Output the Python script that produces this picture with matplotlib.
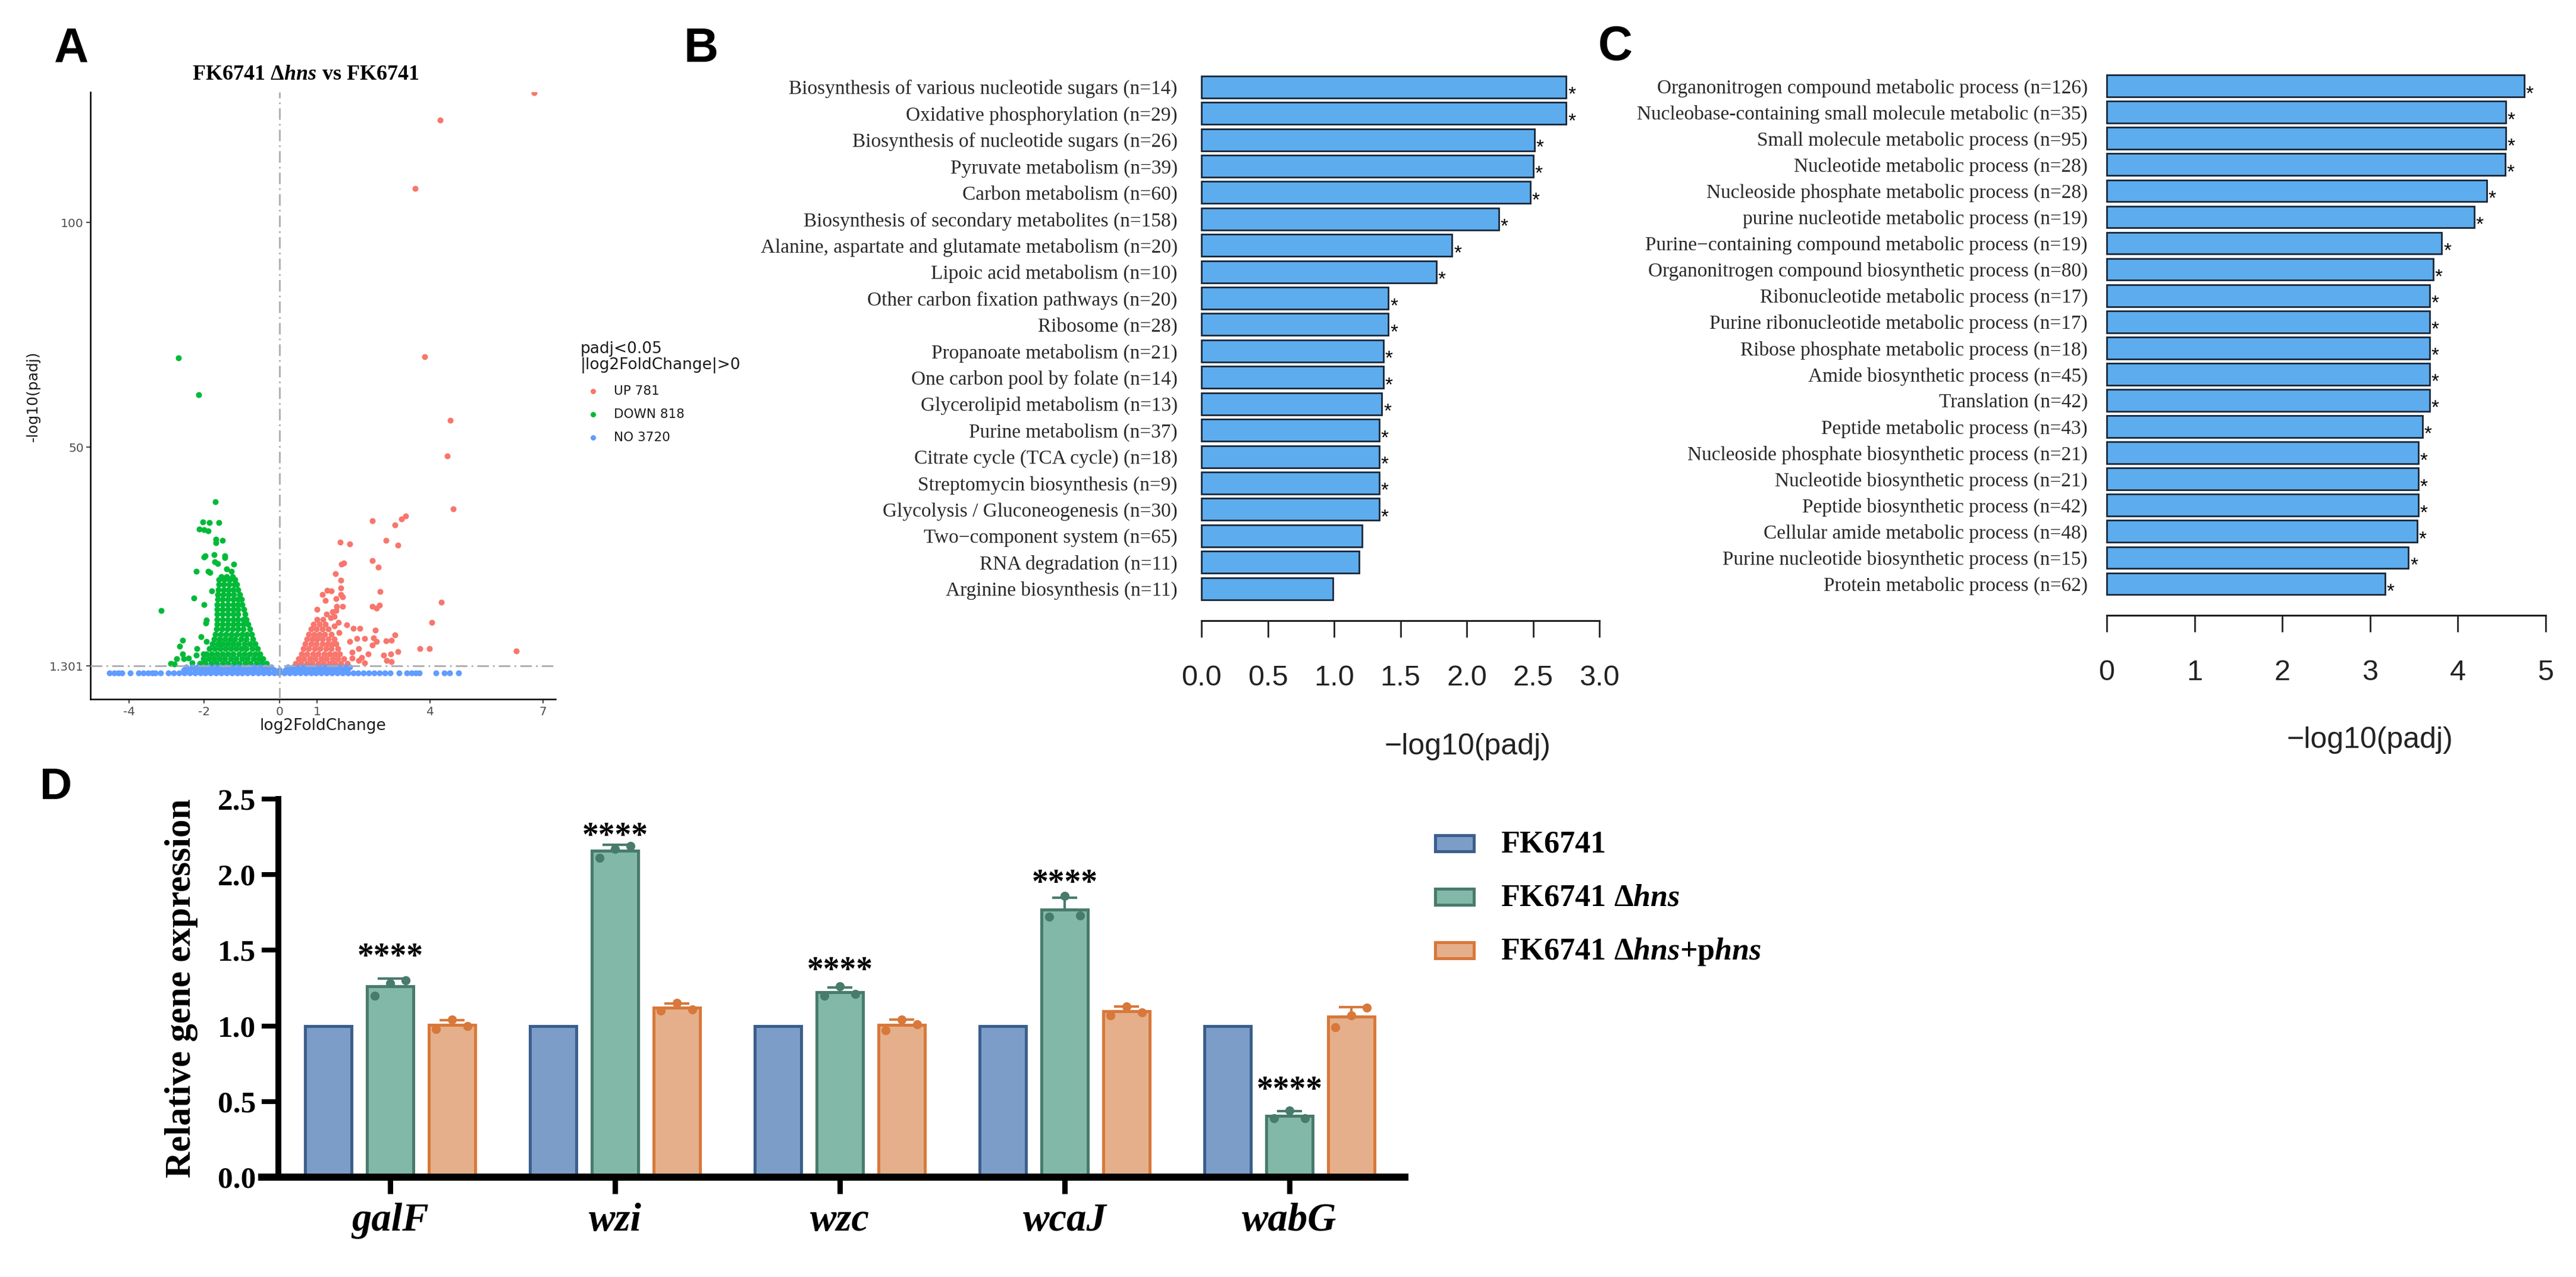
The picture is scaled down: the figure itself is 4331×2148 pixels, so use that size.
import numpy as np
import matplotlib
matplotlib.use("Agg")
import matplotlib.pyplot as plt
from matplotlib.patches import Rectangle
from matplotlib.lines import Line2D

plt.rcParams['mathtext.fontset'] = 'custom'
plt.rcParams['mathtext.rm'] = 'Liberation Serif:bold'
plt.rcParams['mathtext.it'] = 'Liberation Serif:italic:bold'
plt.rcParams['mathtext.bf'] = 'Liberation Serif:bold'

# ---------------------------------------------------------------- data A
UP_COLOR, DOWN_COLOR, NO_COLOR = '#F8766D', '#00BA38', '#619CFF'
A_XTICKS = [-4, -2, 0, 1, 4, 7]
A_YTICKS = [1.301, 50, 100]
A_YTICKLABELS = ['1.301', '50', '100']
LEGEND_A = ['UP 781', 'DOWN 818', 'NO 3720']

DOWN_ROW_Y = [1.8, 2.9, 4.0, 5.1, 6.2, 7.3, 8.4, 9.5, 10.6, 11.7, 12.8, 13.9,
              15.0, 16.1, 17.2, 18.3, 19.4, 20.5, 21.2]
DOWN_ROW_X = [
    [-2.12, -1.97, -1.82, -1.67, -1.52, -1.37, -1.22, -1.07, -0.92, -0.77, -0.62, -0.47, -0.35],
    [-2.02, -1.88, -1.74, -1.60, -1.45, -1.30, -1.15, -1.00, -0.85, -0.70, -0.56, -0.45],
    [-1.94, -1.80, -1.66, -1.52, -1.38, -1.23, -1.08, -0.93, -0.79, -0.65, -0.53],
    [-1.86, -1.72, -1.58, -1.44, -1.30, -1.16, -1.02, -0.88, -0.73, -0.59],
    [-1.79, -1.65, -1.51, -1.37, -1.23, -1.09, -0.94, -0.79, -0.65],
    [-1.74, -1.60, -1.46, -1.32, -1.18, -1.03, -0.88, -0.71],
    [-1.70, -1.56, -1.42, -1.28, -1.14, -1.00, -0.87, -0.75],
    [-1.67, -1.53, -1.39, -1.25, -1.11, -0.97, -0.79],
    [-1.66, -1.52, -1.38, -1.24, -1.10, -0.97, -0.84],
    [-1.66, -1.52, -1.38, -1.24, -1.10, -0.97, -0.88],
    [-1.66, -1.52, -1.38, -1.24, -1.10, -0.92],
    [-1.66, -1.52, -1.38, -1.24, -1.10, -0.95],
    [-1.66, -1.52, -1.38, -1.24, -1.11, -0.99],
    [-1.65, -1.51, -1.37, -1.23, -1.10, -1.02],
    [-1.64, -1.50, -1.36, -1.22, -1.06],
    [-1.63, -1.49, -1.36, -1.23, -1.10],
    [-1.62, -1.48, -1.34, -1.20, -1.14],
    [-1.61, -1.47, -1.33, -1.18],
    [-1.55, -1.40, -1.25],
]
DOWN_SX = [-2.69, -2.15, -1.70, -2.04, -1.86, -1.62, -2.13, -2.01, -1.90, -1.69,
           -1.52, -1.69, -2.01, -1.98, -1.74, -1.46, -1.46, -1.72, -1.65, -1.22,
           -2.21, -1.90, -1.85, -1.41, -1.28, -1.80, -2.27, -2.01, -3.15, -1.95,
           -1.96, -2.57, -2.66, -2.08, -2.20, -1.95, -2.79, -2.74, -2.58, -2.42,
           -2.21, -2.32, -2.00, -2.03, -2.55, -2.90]
DOWN_SY = [69.9, 61.6, 37.8, 33.3, 33.2, 33.2, 31.8, 31.6, 31.3, 29.5,
           29.2, 28.7, 25.5, 25.8, 26.0, 25.8, 25.4, 24.5, 24.1, 23.9,
           22.3, 22.4, 22.1, 22.9, 22.3, 18.0, 16.4, 15.0, 13.6, 11.5,
           10.9, 7.0, 5.7, 7.8, 5.2, 6.8, 1.76, 2.87, 4.0, 3.0,
           3.7, 2.0, 2.65, 4.0, 2.85, 1.9]

UP_ROW_Y = [1.8, 2.9, 4.0, 5.1, 6.2, 7.3, 8.4, 9.5, 10.6, 11.7]
UP_ROW_X = [
    [0.42, 0.57, 0.72, 0.87, 1.02, 1.17, 1.32, 1.47, 1.62, 1.80],
    [0.50, 0.65, 0.80, 0.95, 1.10, 1.25, 1.40, 1.55, 1.70],
    [0.58, 0.73, 0.88, 1.03, 1.18, 1.33, 1.47, 1.60],
    [0.63, 0.78, 0.93, 1.08, 1.23, 1.38, 1.55],
    [0.68, 0.83, 0.98, 1.13, 1.28, 1.40, 1.50],
    [0.72, 0.86, 1.00, 1.14, 1.29, 1.45],
    [0.77, 0.91, 1.05, 1.20, 1.37],
    [0.83, 0.98, 1.13, 1.30],
    [0.90, 1.05, 1.22],
    [0.99, 1.15],
]
UP_SX = [6.76, 4.27, 3.60, 3.85, 4.53, 4.45, 6.29, 1.49, 1.63, 1.63,
         1.63, 1.67, 1.50, 1.67, 1.51, 1.40, 1.50, 1.45, 1.56, 1.46,
         1.58, 1.35, 1.25, 1.64, 1.70, 1.61, 1.87, 2.46, 3.07, 3.23,
         3.35, 4.61, 2.83, 3.14, 2.46, 2.62, 2.67, 2.47, 2.58, 2.66,
         4.29, 4.05, 3.73, 3.98, 1.27, 1.13, 1.21, 0.99, 1.37, 1.79,
         1.96, 2.13, 2.55, 3.06, 1.87, 2.05, 2.25, 2.50, 2.58, 2.83,
         2.97, 2.46, 2.10, 2.36, 2.76, 2.95, 3.15, 1.92, 1.92, 2.10,
         2.26, 2.18, 2.84, 2.97]
UP_SY = [128.9, 122.8, 107.6, 70.1, 56.0, 48.0, 4.6, 21.8, 20.4, 18.7,
         17.2, 16.7, 16.3, 14.6, 14.6, 13.4, 13.6, 12.3, 11.0, 10.2,
         8.8, 12.0, 12.8, 24.0, 24.2, 28.85, 28.5, 33.6, 32.7, 34.0,
         34.7, 36.3, 29.3, 28.2, 24.8, 23.3, 17.9, 14.6, 14.1, 14.8,
         15.5, 11.0, 5.2, 5.1, 18.1, 17.2, 15.9, 13.9, 18.0, 10.4,
         9.7, 9.6, 9.3, 8.2, 6.8, 7.4, 7.4, 7.6, 6.8, 6.9,
         7.0, 5.95, 5.2, 4.0, 3.75, 3.98, 4.5, 4.4, 3.1, 2.5,
         2.0, 3.2, 2.5, 2.3]

NO_ROW_Y = [-0.2, 0.45, 1.1]
NO_ROW_X = [
    [-4.52, -4.40, -4.28, -4.19, -3.96, -3.74, -3.62, -3.50, -3.38, -3.31, -3.16,
     -2.95, -2.81, -2.67, -2.53, -2.39, -2.25, -2.11, -1.97, -1.83, -1.69, -1.55,
     -1.41, -1.27, -1.13, -0.99, -0.85, -0.71, -0.57, -0.43, -0.29, -0.15, -0.01,
     0.13, 0.27, 0.41, 0.55, 0.69, 0.83, 0.97, 1.11, 1.25, 1.39, 1.53, 1.67, 1.81,
     1.95, 2.09, 2.23, 2.37, 2.51, 2.65, 2.79, 2.93, 3.17, 3.38, 3.50, 3.62, 3.71,
     4.16, 4.38, 4.52, 4.76],
    [-2.55, -2.40, -2.25, -2.10, -1.95, -1.80, -1.65, -1.50, -1.35, -1.20, -1.05,
     -0.90, -0.75, -0.60, -0.45, -0.30, -0.15, 0.0, 0.15, 0.30, 0.45, 0.60, 0.75,
     0.90, 1.05, 1.20, 1.35, 1.50, 1.65, 1.80],
    [-2.48, -2.33, -2.18, -2.03, -1.88, -1.73, -1.58, -1.43, -1.28, -1.13, -0.98,
     -0.83, -0.68, -0.53, -0.38, -0.23, 0.22, 0.37, 0.52, 0.67, 0.82, 0.97, 1.12,
     1.27, 1.42, 1.57, 1.72, 1.87],
]

# ---------------------------------------------------------------- data B
B_TERMS = [
    "Biosynthesis of various nucleotide sugars (n=14)",
    "Oxidative phosphorylation (n=29)",
    "Biosynthesis of nucleotide sugars (n=26)",
    "Pyruvate metabolism (n=39)",
    "Carbon metabolism (n=60)",
    "Biosynthesis of secondary metabolites (n=158)",
    "Alanine, aspartate and glutamate metabolism (n=20)",
    "Lipoic acid metabolism (n=10)",
    "Other carbon fixation pathways (n=20)",
    "Ribosome (n=28)",
    "Propanoate metabolism (n=21)",
    "One carbon pool by folate (n=14)",
    "Glycerolipid metabolism (n=13)",
    "Purine metabolism (n=37)",
    "Citrate cycle (TCA cycle) (n=18)",
    "Streptomycin biosynthesis (n=9)",
    "Glycolysis / Gluconeogenesis (n=30)",
    "Two\u2212component system (n=65)",
    "RNA degradation (n=11)",
    "Arginine biosynthesis (n=11)",
]
B_VALUES = [2.75, 2.75, 2.51, 2.50, 2.48, 2.24, 1.89, 1.77, 1.41, 1.41,
            1.37, 1.37, 1.36, 1.34, 1.34, 1.34, 1.34, 1.21, 1.19, 0.99]
B_SIG = [True] * 17 + [False] * 3
B_TICKS = [0.0, 0.5, 1.0, 1.5, 2.0, 2.5, 3.0]
B_TICKLABELS = ['0.0', '0.5', '1.0', '1.5', '2.0', '2.5', '3.0']

# ---------------------------------------------------------------- data C
C_TERMS = [
    "Organonitrogen compound metabolic process (n=126)",
    "Nucleobase-containing small molecule metabolic (n=35)",
    "Small molecule metabolic process (n=95)",
    "Nucleotide metabolic process (n=28)",
    "Nucleoside phosphate metabolic process (n=28)",
    "purine nucleotide metabolic process (n=19)",
    "Purine\u2212containing compound metabolic process (n=19)",
    "Organonitrogen compound biosynthetic process (n=80)",
    "Ribonucleotide metabolic process (n=17)",
    "Purine ribonucleotide metabolic process (n=17)",
    "Ribose phosphate metabolic process (n=18)",
    "Amide biosynthetic process (n=45)",
    "Translation (n=42)",
    "Peptide metabolic process (n=43)",
    "Nucleoside phosphate biosynthetic process (n=21)",
    "Nucleotide biosynthetic process (n=21)",
    "Peptide biosynthetic process (n=42)",
    "Cellular amide metabolic process (n=48)",
    "Purine nucleotide biosynthetic process (n=15)",
    "Protein metabolic process (n=62)",
]
C_VALUES = [4.76, 4.55, 4.55, 4.54, 4.33, 4.19, 3.82, 3.72, 3.68, 3.68,
            3.68, 3.68, 3.68, 3.60, 3.55, 3.55, 3.55, 3.54, 3.44, 3.17]
C_SIG = [True] * 20
C_TICKS = [0, 1, 2, 3, 4, 5]
C_TICKLABELS = ['0', '1', '2', '3', '4', '5']

# ---------------------------------------------------------------- data D
GENES = ['galF', 'wzi', 'wzc', 'wcaJ', 'wabG']
WT_REL = [1.0, 1.0, 1.0, 1.0, 1.0]
HNS_REPS = [[1.20, 1.28, 1.30], [2.11, 2.17, 2.19], [1.20, 1.26, 1.21],
            [1.72, 1.86, 1.73], [0.39, 0.44, 0.39]]
COMP_REPS = [[0.98, 1.04, 1.00], [1.10, 1.15, 1.11], [0.97, 1.04, 1.01],
             [1.07, 1.13, 1.09], [0.99, 1.07, 1.12]]
STAR_Y = [1.50, 2.30, 1.41, 1.99, 0.62]
D_YTICKS = [0.0, 0.5, 1.0, 1.5, 2.0, 2.5]
D_YTICKLABELS = ['0.0', '0.5', '1.0', '1.5', '2.0', '2.5']

# ---------------------------------------------------------------- figure
W, H, DPI = 4331, 2148, 100
fig = plt.figure(figsize=(W / DPI, H / DPI), dpi=DPI, facecolor='white')


def fx(px):
    return px / W


def fy(py):
    return 1 - py / H


def axes_px(l, t, r, b):
    return fig.add_axes([l / W, 1 - b / H, (r - l) / W, (b - t) / H])


SERIF = 'Liberation Serif'
SANS = 'Liberation Sans'

# ================================================================ Panel A
axA = axes_px(152, 155, 934, 1176)


def flatten_rows(rows_y, rows_x):
    xs, ys = [], []
    for yv, row in zip(rows_y, rows_x):
        for xv in row:
            xs.append(xv)
            ys.append(yv)
    return xs, ys


dx, dy = flatten_rows(DOWN_ROW_Y, DOWN_ROW_X)
ux, uy = flatten_rows(UP_ROW_Y, UP_ROW_X)
nx_, ny_ = flatten_rows(NO_ROW_Y, NO_ROW_X)
axA.scatter(dx + DOWN_SX, dy + DOWN_SY, s=52, color=DOWN_COLOR, linewidths=0, zorder=2)
axA.scatter(ux + UP_SX, uy + UP_SY, s=52, color=UP_COLOR, linewidths=0, zorder=2)
axA.scatter(nx_, ny_, s=52, color=NO_COLOR, linewidths=0, zorder=3)
dash = (0, (7, 2.5, 1, 2.5))
axA.axvline(0, color='#ABABAB', lw=2.0, ls=dash, zorder=4)
axA.axhline(1.301, color='#ABABAB', lw=2.0, ls=dash, zorder=4)
axA.set_xlim(-5.025, 7.329)
axA.set_ylim(-6.08, 128.97)
for s in ('top', 'right'):
    axA.spines[s].set_visible(False)
for s in ('left', 'bottom'):
    axA.spines[s].set_linewidth(1.8)
    axA.spines[s].set_color('black')
axA.set_xticks(A_XTICKS)
axA.set_xticklabels([str(t) for t in A_XTICKS])
axA.set_yticks(A_YTICKS)
axA.set_yticklabels(A_YTICKLABELS)
axA.tick_params(axis='both', length=5, width=1.3, color='#333333',
                labelsize=14.5, labelcolor='#4D4D4D')
axA.tick_params(axis='x', pad=3.5)
axA.tick_params(axis='y', pad=3)
for lab in axA.get_xticklabels() + axA.get_yticklabels():
    lab.set_family('DejaVu Sans')
fig.text(fx(543), fy(1221), 'log2FoldChange', ha='center', va='center',
         family='DejaVu Sans', size=19, color='#1a1a1a')
fig.text(fx(56), fy(667), '-log10(padj)', ha='center', va='center', rotation=90,
         family='DejaVu Sans', size=18, color='#1a1a1a')
fig.text(fx(514), fy(124), r'$\mathrm{FK6741\ \Delta}\mathit{hns}\mathrm{\ vs\ FK6741}$',
         ha='center', va='center', size=26)

# legend A
fig.text(fx(976), fy(587), 'padj<0.05', ha='left', va='center',
         family='DejaVu Sans', size=19, color='#1a1a1a')
fig.text(fx(976), fy(614), '|log2FoldChange|>0', ha='left', va='center',
         family='DejaVu Sans', size=19, color='#1a1a1a')
for lab, col, yy in zip(LEGEND_A, [UP_COLOR, DOWN_COLOR, NO_COLOR], [658, 697, 736]):
    fig.add_artist(Line2D([fx(997)], [fy(yy)], marker='o', markersize=6.5,
                          markeredgewidth=0, color=col, linestyle='none',
                          transform=fig.transFigure))
    fig.text(fx(1032), fy(yy), lab, ha='left', va='center',
             family='DejaVu Sans', size=15.5, color='#1a1a1a')

# ================================================================ Panels B & C
BAR_FILL = '#5CACEE'
BAR_EDGE = '#1a2636'


def enrich_panel(left, top, right, bottom, first_c, step, x_per_unit,
                 values, terms, sig, ticks, ticklabels, label_pad):
    ax = axes_px(left, top, right, bottom)
    pos = np.arange(len(values))
    ax.barh(pos, values, height=0.833, color=BAR_FILL, edgecolor=BAR_EDGE,
            linewidth=2.0, clip_on=False, zorder=2)
    ax.set_ylim((bottom - first_c) / step, (top - first_c) / step)
    ax.set_xlim(0, (right - left) / x_per_unit)
    for s in ('left', 'top', 'right'):
        ax.spines[s].set_visible(False)
    ax.spines['bottom'].set_bounds(ticks[0], ticks[-1])
    ax.spines['bottom'].set_linewidth(2.2)
    ax.spines['bottom'].set_color('#222222')
    ax.set_xticks(ticks)
    ax.set_xticklabels(ticklabels, fontfamily=SANS, fontsize=35, color='#222222')
    ax.tick_params(axis='x', length=20, width=2.0, color='#222222', pad=33)
    ax.set_yticks(pos)
    ax.set_yticklabels(terms, fontfamily=SERIF, fontsize=24, color='#2a2a2a')
    ax.tick_params(axis='y', length=0, pad=label_pad)
    for i, (v, sg) in enumerate(zip(values, sig)):
        if sg:
            ax.annotate('*', xy=(v, i), xytext=(2, -16), textcoords='offset points',
                        ha='left', va='baseline', fontsize=24, family=SANS,
                        color='black', annotation_clip=False)
    ax.patch.set_alpha(0)
    return ax


axB = enrich_panel(2020, 120, 2730, 1044, 146.2, 44.42, 223.0,
                   B_VALUES, B_TERMS, B_SIG, B_TICKS, B_TICKLABELS, 29)
axC = enrich_panel(3542, 120, 4320, 1035, 144.6, 44.07, 147.5,
                   C_VALUES, C_TERMS, C_SIG, C_TICKS, C_TICKLABELS, 23)
fig.text(fx(2467), fy(1256), '\u2212log10(padj)', ha='center', va='center',
         family=SANS, size=36, color='#222222')
fig.text(fx(3984), fy(1245), '\u2212log10(padj)', ha='center', va='center',
         family=SANS, size=36, color='#222222')

# ================================================================ Panel D
FILLS = ['#7B9DC7', '#82B8A8', '#E4AF8A']
EDGES = ['#3B5F8C', '#487B6C', '#D8783A']
axD = axes_px(440, 1344, 2362, 1980)
xg = np.arange(len(GENES))
OFF = 0.275
BW = 0.206
JIT = [-0.07, 0.0, 0.07]

axD.bar(xg - OFF, WT_REL, width=BW, color=FILLS[0], edgecolor=EDGES[0],
        linewidth=3.6, zorder=2)
for k, (reps, off) in enumerate([(HNS_REPS, 0.0), (COMP_REPS, OFF)]):
    arr = np.array(reps)
    mean = arr.mean(axis=1)
    sd = arr.std(axis=1, ddof=1)
    axD.bar(xg + off, mean, width=BW, color=FILLS[k + 1], edgecolor=EDGES[k + 1],
            linewidth=3.6, zorder=2)
    axD.errorbar(xg + off, mean, yerr=[np.zeros_like(sd), sd], fmt='none',
                 ecolor=EDGES[k + 1], elinewidth=3.0, capsize=15, capthick=3.0,
                 zorder=3)
    for j in range(arr.shape[1]):
        axD.scatter(xg + off + JIT[j], arr[:, j], s=120, color=EDGES[k + 1],
                    linewidths=0, zorder=4, clip_on=False)

for i, sy in enumerate(STAR_Y):
    axD.annotate('****', xy=(xg[i], sy), xytext=(0, -19.5), textcoords='offset points',
                 ha='center', va='baseline', fontsize=40, family=SERIF,
                 weight='bold', color='black', annotation_clip=False)

axD.set_xlim((440 - 656) / 378, (2362 - 656) / 378)
axD.set_ylim(0, 2.5)
axD.spines['top'].set_visible(False)
axD.spines['right'].set_visible(False)
axD.spines['left'].set_position(('data', (468 - 656) / 378))
axD.spines['left'].set_linewidth(7.2)
axD.spines['left'].set_bounds(0, 2.5)
axD.spines['bottom'].set_linewidth(8.6)
for s in ('left', 'bottom'):
    axD.spines[s].set_color('black')
    axD.spines[s].set_capstyle('projecting')
axD.set_yticks(D_YTICKS)
axD.set_yticklabels(D_YTICKLABELS, fontfamily=SERIF, fontweight='bold', fontsize=37)
axD.tick_params(axis='y', length=20, width=5.8, color='black', pad=7)
axD.set_xticks(xg)
axD.set_xticklabels(GENES, fontfamily=SERIF, fontweight='bold', fontstyle='italic',
                    fontsize=48)
axD.tick_params(axis='x', length=20, width=6.5, color='black', pad=11)
axD.patch.set_alpha(0)
fig.text(fx(305), fy(1662), 'Relative gene expression', rotation=90, ha='center',
         va='center', family=SERIF, weight='bold', size=44)

# legend D
LEG_D = [r'$\mathrm{FK6741}$',
         r'$\mathrm{FK6741\ \Delta}\mathit{hns}$',
         r'$\mathrm{FK6741\ \Delta}\mathit{hns}{+}\mathrm{p}\mathit{hns}$']
for k, (lab, yc, yb) in enumerate(zip(LEG_D, [1418, 1508, 1598], [1434, 1524, 1614])):
    fig.add_artist(Rectangle((fx(2413), fy(yc + 13.5)), 65 / W, 27 / H,
                             transform=fig.transFigure, facecolor=FILLS[k],
                             edgecolor=EDGES[k], linewidth=3.6))
    fig.text(fx(2523), fy(yb), lab, ha='left', va='baseline', size=37.5)

# ================================================================ panel letters
for letter, xx, yy, sz in [('A', 120, 104, 58), ('B', 1179, 104, 58),
                           ('C', 2716, 101, 58), ('D', 94, 1344, 54)]:
    fig.text(fx(xx), fy(yy), letter, ha='center', va='baseline', family=SANS,
             weight='bold', size=sz)

fig.savefig('out.png', dpi=DPI, facecolor='white')
